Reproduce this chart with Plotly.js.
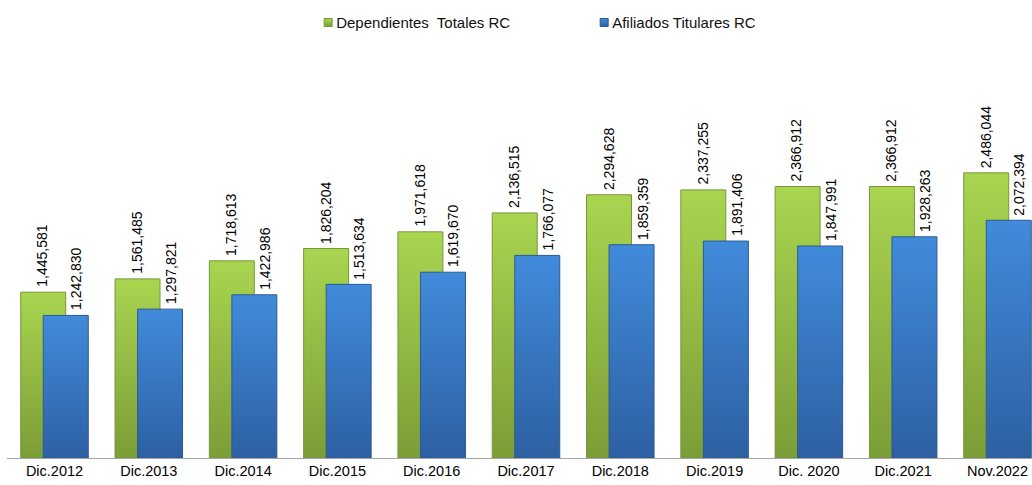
<!DOCTYPE html>
<html>
<head>
<meta charset="utf-8">
<script src="https://cdn.plot.ly/plotly-3.0.1.min.js"></script>
<style>html,body{margin:0;padding:0;background:#fff;}#chart{width:1032px;height:485px;}</style>
</head>
<body>
<div id="chart"></div>
<script>
const categories = ["Dic.2012","Dic.2013","Dic.2014","Dic.2015","Dic.2016","Dic.2017","Dic.2018","Dic.2019","Dic. 2020","Dic.2021","Nov.2022"];
const dependientes = [1445581,1561485,1718613,1826204,1971618,2136515,2294628,2337255,2366912,2366912,2486044];
const afiliados = [1242830,1297821,1422986,1513634,1619670,1766077,1859359,1891406,1847991,1928263,2072394];
const seriesNames = ["Dependientes  Totales RC","Afiliados Titulares RC"];

const FONT = "Liberation Sans, Arial, sans-serif";
const fmt = v => v.toLocaleString("en-US");

const traces = [
  {type:"bar", name:seriesNames[0], x:categories, y:dependientes,
   offset:-0.358, width:0.477,
   marker:{color:"#93bd45", line:{color:"#76973a", width:1}},
   hoverinfo:"none"},
  {type:"bar", name:seriesNames[1], x:categories, y:afiliados,
   offset:-0.119, width:0.477,
   marker:{color:"#3875c0", line:{color:"#2c5a96", width:1}},
   hoverinfo:"none"}
];

const annotations = [];
categories.forEach((c,i)=>{
  annotations.push({x:c, y:dependientes[i], xref:"x", yref:"y", text:fmt(dependientes[i]),
    showarrow:false, textangle:-90, xanchor:"center", yanchor:"bottom",
    xshift:-12, yshift:3, font:{family:FONT, size:14, color:"#000"}});
  annotations.push({x:c, y:afiliados[i], xref:"x", yref:"y", text:fmt(afiliados[i]),
    showarrow:false, textangle:-90, xanchor:"center", yanchor:"bottom",
    xshift:22, yshift:3, font:{family:FONT, size:14, color:"#000"}});
});

const layout = {
  width:1032, height:485,
  margin:{l:7, r:0, t:40, b:27, pad:0},
  paper_bgcolor:"#fff", plot_bgcolor:"#fff",
  barmode:"overlay",
  font:{family:FONT, color:"#000"},
  showlegend:true,
  legend:{orientation:"h", xref:"container", yref:"container", x:0.287, y:0.953,
    xanchor:"left", yanchor:"middle", entrywidth:231, entrywidthmode:"pixels",
    font:{family:FONT, size:15, color:"#111"}, bgcolor:"rgba(0,0,0,0)", traceorder:"normal"},
  xaxis:{type:"category", range:[-0.5037, 10.366], showline:true, linecolor:"#a6a6a6", linewidth:1,
    ticks:"", showgrid:false, zeroline:false, fixedrange:true,
    tickfont:{family:FONT, size:14.5, color:"#000"}},
  yaxis:{range:[0, 3644000], visible:false, showgrid:false, zeroline:false, fixedrange:true},
  annotations:annotations
};

Plotly.newPlot("chart", traces, layout, {displayModeBar:false, staticPlot:true}).then(gd=>{
  const svg = gd.querySelector(".main-svg");
  const ns = "http://www.w3.org/2000/svg";
  const defs = document.createElementNS(ns,"defs");
  function grad(id, top, bottom){
    const g = document.createElementNS(ns,"linearGradient");
    g.setAttribute("id",id); g.setAttribute("x1","0"); g.setAttribute("y1","0");
    g.setAttribute("x2","0"); g.setAttribute("y2","1");
    [[0,top],[1,bottom]].forEach(([o,c])=>{
      const s=document.createElementNS(ns,"stop");
      s.setAttribute("offset",o); s.setAttribute("stop-color",c); g.appendChild(s);
    });
    defs.appendChild(g);
  }
  grad("gGreen","#a9d550","#7b9d37");
  grad("gBlue","#418bdb","#2d60a2");
  svg.insertBefore(defs, svg.firstChild);
  const tr = gd.querySelectorAll(".barlayer .trace.bars");
  const ids = ["gGreen","gBlue"];
  tr.forEach((t,k)=>{
    t.querySelectorAll(".point path").forEach(p=>{ p.style.fill = "url(#"+ids[k]+")"; });
  });
  const leg = gd.querySelectorAll(".legend .traces");
  leg.forEach((t,k)=>{
    t.querySelectorAll(".legendpoints path").forEach(p=>{
      p.setAttribute("d","M16,4H8V-4H16Z");
      p.style.fill = "url(#"+ids[k]+")";
    });
  });
});
</script>
</body>
</html>
